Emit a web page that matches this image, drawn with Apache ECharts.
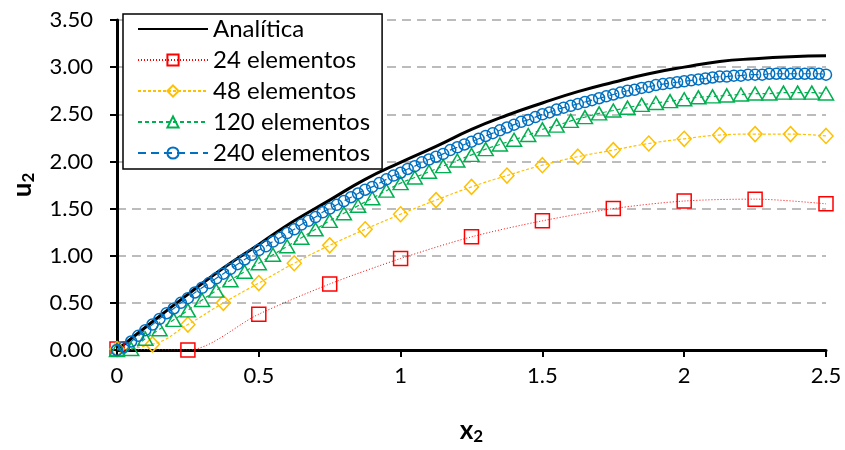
<!DOCTYPE html>
<html>
<head>
<meta charset="utf-8">
<script src="https://cdn.jsdelivr.net/npm/echarts@6/dist/echarts.min.js"></script>
<style>
  html, body { margin: 0; padding: 0; background: #fff; }
  #chart { width: 845px; height: 450px; }
</style>
</head>
<body>
<div id="chart"></div>
<script>
// series names
const names = ["Analítica", "24 elementos", "48 elementos", "120 elementos", "240 elementos"];

// analytic solution, read every 0.125
const analyticStep = 0.125;
const analytic = [0, 0.30, 0.59, 0.87, 1.12, 1.37, 1.59, 1.81, 1.99, 2.16, 2.34,
  2.49, 2.62, 2.74, 2.84, 2.93, 3.00, 3.06, 3.09, 3.11, 3.12];

// 24 elementos, every 0.25
const el24Step = 0.25;
const el24 = [0.01, 0.00, 0.38, 0.70, 0.97, 1.20, 1.37, 1.50, 1.58, 1.60, 1.55];

// 48 elementos, every 0.125
const el48Step = 0.125;
const el48 = [0.01, 0.06, 0.27, 0.50, 0.71, 0.92, 1.11, 1.28, 1.44, 1.59, 1.73,
  1.85, 1.96, 2.05, 2.12, 2.19, 2.24, 2.28, 2.29, 2.29, 2.27];

// 120 elementos, every 0.05
const el120Step = 0.05;
const el120 = [0.00, 0.01, 0.12, 0.22, 0.32, 0.42, 0.53, 0.63, 0.74, 0.83,
  0.92, 1.01, 1.10, 1.19, 1.28, 1.37, 1.45, 1.53, 1.61, 1.69,
  1.77, 1.83, 1.89, 1.95, 2.01, 2.07, 2.13, 2.18, 2.23, 2.28,
  2.34, 2.38, 2.43, 2.47, 2.51, 2.54, 2.57, 2.60, 2.62, 2.64,
  2.66, 2.68, 2.69, 2.70, 2.71, 2.72, 2.72, 2.73, 2.73, 2.73, 2.72];

// 240 elementos, every 0.025
const el240Step = 0.025;
const el240 = [0.00, 0.03, 0.09, 0.15, 0.21, 0.27, 0.33, 0.39, 0.44, 0.50,
  0.55, 0.61, 0.66, 0.71, 0.76, 0.81, 0.86, 0.91, 0.96, 1.01,
  1.06, 1.10, 1.15, 1.19, 1.24, 1.28, 1.33, 1.37, 1.41, 1.46,
  1.50, 1.54, 1.58, 1.62, 1.66, 1.70, 1.73, 1.77, 1.81, 1.85,
  1.88, 1.92, 1.95, 1.99, 2.02, 2.05, 2.08, 2.12, 2.15, 2.18,
  2.21, 2.24, 2.27, 2.30, 2.33, 2.36, 2.39, 2.42, 2.44, 2.47,
  2.50, 2.52, 2.55, 2.57, 2.59, 2.61, 2.63, 2.65, 2.67, 2.69,
  2.71, 2.73, 2.75, 2.76, 2.78, 2.79, 2.81, 2.82, 2.83, 2.84,
  2.85, 2.86, 2.87, 2.88, 2.89, 2.90, 2.90, 2.91, 2.91, 2.92,
  2.92, 2.92, 2.93, 2.93, 2.93, 2.93, 2.93, 2.93, 2.93, 2.93, 2.92];

// axis ticks
const xTicks = { min: 0, max: 2.5, interval: 0.5 };
const yTicks = { min: 0, max: 3.5, interval: 0.5 };

const toPairs = (vals, step) => vals.map((v, i) => [+(i * step).toFixed(4), v]);

const font = "Lato, 'Noto Sans', sans-serif";

const chart = echarts.init(document.getElementById("chart"), null, { renderer: "canvas" });

const subName = {
  rich: {
    a: { fontSize: 26, fontWeight: "bold", color: "#000", fontFamily: font },
    b: { fontSize: 17, fontWeight: "bold", color: "#000", fontFamily: font, padding: [12, 0, 0, 0] }
  }
};

chart.setOption({
  animation: false,
  textStyle: { fontFamily: font },
  grid: { left: 117, right: 19, top: 20, bottom: 98 },
  legend: {
    orient: "vertical",
    left: 123,
    top: 14,
    padding: [3, 12, 4, 14],
    backgroundColor: "#fff",
    borderColor: "#000",
    borderWidth: 1.5,
    borderRadius: 0,
    itemWidth: 70,
    itemHeight: 14,
    itemGap: 7,
    textStyle: { fontSize: 24, color: "#000", fontFamily: font, lineHeight: 22 },
    data: [
      { name: names[0], itemStyle: { opacity: 0 } },
      names[1], names[2], names[3], names[4]
    ]
  },
  xAxis: {
    type: "value",
    min: xTicks.min,
    max: xTicks.max,
    interval: xTicks.interval,
    name: "{a|x}{b|2}",
    nameLocation: "middle",
    nameGap: 66,
    nameTextStyle: subName,
    axisLine: { lineStyle: { color: "#000", width: 3 } },
    axisTick: { show: true, length: 7, lineStyle: { color: "#000", width: 2 } },
    axisLabel: { fontSize: 22, color: "#000", margin: 15, fontFamily: font },
    splitLine: { show: false }
  },
  yAxis: {
    type: "value",
    min: yTicks.min,
    max: yTicks.max,
    interval: yTicks.interval,
    name: "{a|u}{b|2}",
    nameLocation: "middle",
    nameGap: 80,
    nameRotate: 90,
    nameTextStyle: subName,
    axisLine: { show: true, lineStyle: { color: "#000", width: 3 } },
    axisTick: { show: true, length: 7, lineStyle: { color: "#000", width: 2 } },
    axisLabel: { fontSize: 22, color: "#000", margin: 24, fontFamily: font, formatter: v => v.toFixed(2) },
    splitLine: { show: true, lineStyle: { color: "#a6a6a6", width: 1.5, type: [9, 6] } }
  },
  series: [
    {
      name: names[0], type: "line", smooth: true, symbol: "none",
      data: toPairs(analytic, analyticStep),
      lineStyle: { color: "#000", width: 3 },
      itemStyle: { color: "#000" }
    },
    {
      name: names[1], type: "line", smooth: 0.3, symbol: "rect", symbolSize: 14,
      data: toPairs(el24, el24Step),
      lineStyle: { color: "#ff0000", width: 1, type: [1, 2] },
      itemStyle: { color: "rgba(0,0,0,0)", borderColor: "#ff0000", borderWidth: 1.5 }
    },
    {
      name: names[2], type: "line", smooth: true, symbol: "diamond", symbolSize: [14, 15],
      data: toPairs(el48, el48Step),
      lineStyle: { color: "#ffc000", width: 1.2, type: [3, 2] },
      itemStyle: { color: "rgba(0,0,0,0)", borderColor: "#ffc000", borderWidth: 1.5 }
    },
    {
      name: names[3], type: "line", smooth: true, symbol: "triangle", symbolSize: [15, 13],
      data: toPairs(el120, el120Step),
      lineStyle: { color: "#00b050", width: 1.2, type: [4, 3] },
      itemStyle: { color: "rgba(0,0,0,0)", borderColor: "#00b050", borderWidth: 1.5 }
    },
    {
      name: names[4], type: "line", smooth: true, symbol: "circle", symbolSize: 11,
      data: toPairs(el240, el240Step),
      lineStyle: { color: "#0070c0", width: 1.2, type: [8, 5] },
      itemStyle: { color: "rgba(0,0,0,0)", borderColor: "#0070c0", borderWidth: 1.5 }
    }
  ]
});

window.addEventListener("resize", () => chart.resize());
</script>
</body>
</html>
